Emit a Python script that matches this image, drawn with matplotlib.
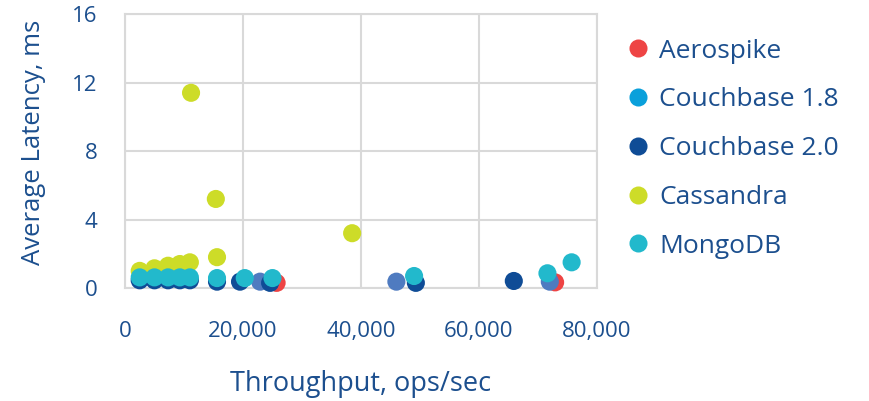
import matplotlib
matplotlib.use("Agg")
import matplotlib.pyplot as plt
from matplotlib.lines import Line2D
from matplotlib.ticker import FuncFormatter

# ---- data ----
series_names = ["Aerospike", "Couchbase 1.8", "Couchbase 2.0", "Cassandra", "MongoDB"]

aero_x = [25700, 72900]
aero_y = [0.30, 0.33]

cb18_x = [22900, 46000, 72000]
cb18_y = [0.37, 0.37, 0.37]

cb20_x = [2500, 5000, 7300, 9300, 11000, 15600, 19500, 24600, 49300, 65900]
cb20_y = [0.45, 0.45, 0.45, 0.45, 0.45, 0.37, 0.37, 0.30, 0.30, 0.41]

cass_x = [2500, 5000, 7300, 9300, 11000, 11200, 15400, 15600, 38500]
cass_y = [1.0, 1.15, 1.3, 1.4, 1.5, 11.4, 5.2, 1.8, 3.2]

mongo_x = [2500, 5000, 7300, 9300, 11000, 15600, 20300, 25000, 49000, 71600, 75700]
mongo_y = [0.62, 0.62, 0.62, 0.62, 0.62, 0.58, 0.58, 0.58, 0.70, 0.86, 1.5]

x_ticks = [0, 20000, 40000, 60000, 80000]
y_ticks = [0, 4, 8, 12, 16]

# ---- style ----
plt.rcParams['font.family'] = ['Open Sans', 'DejaVu Sans']
txt = '#1c4f8e'
grid = '#d9d9d9'
point_colors = ['#ee4444', '#4f7bc0', '#0f4c96', '#cddc28', '#22b9cc']
legend_colors = ['#ee4444', '#0aa0db', '#0f4c96', '#cddc28', '#22b9cc']

fig = plt.figure(figsize=(8.69, 4.01), dpi=100)
ax = fig.add_axes([0.1438, 0.2818, 0.5432, 0.6832])

data = [(aero_x, aero_y), (cb18_x, cb18_y), (cb20_x, cb20_y),
        (cass_x, cass_y), (mongo_x, mongo_y)]
for (xs, ys), c, name in zip(data, point_colors, series_names):
    ax.scatter(xs, ys, s=170, color=c, edgecolors='none', label=name,
               zorder=3, clip_on=False)

ax.set_xlim(0, 80000)
ax.set_ylim(0, 16)
ax.set_xticks(x_ticks)
ax.set_yticks(y_ticks)
ax.xaxis.set_major_formatter(FuncFormatter(lambda v, p: '{:,.0f}'.format(v)))
ax.grid(True, color=grid, linewidth=1.5, zorder=0)
for sp in ax.spines.values():
    sp.set_color(grid)
    sp.set_linewidth(1.5)
ax.tick_params(length=0, labelsize=16, colors=txt)
ax.tick_params(axis='x', pad=24)
ax.tick_params(axis='y', pad=20)

ax.set_xlabel('Throughput, ops/sec', fontsize=19.5, color=txt)
ax.set_ylabel('Average Latency, ms', fontsize=18.5, color=txt)
ax.xaxis.set_label_coords(0.5, -0.30)
ax.yaxis.set_label_coords(-0.168, 0.533)

handles = [Line2D([], [], marker='o', linestyle='none', markersize=13,
                  markerfacecolor=c, markeredgecolor='none')
           for c in legend_colors]
leg = fig.legend(handles, series_names, loc='upper left',
                 bbox_to_anchor=(0.692, 0.963), frameon=False, fontsize=19,
                 labelspacing=0.9, handletextpad=0.3, handlelength=1.0)
for t in leg.get_texts():
    t.set_color(txt)

plt.savefig('out.png', dpi=100)
